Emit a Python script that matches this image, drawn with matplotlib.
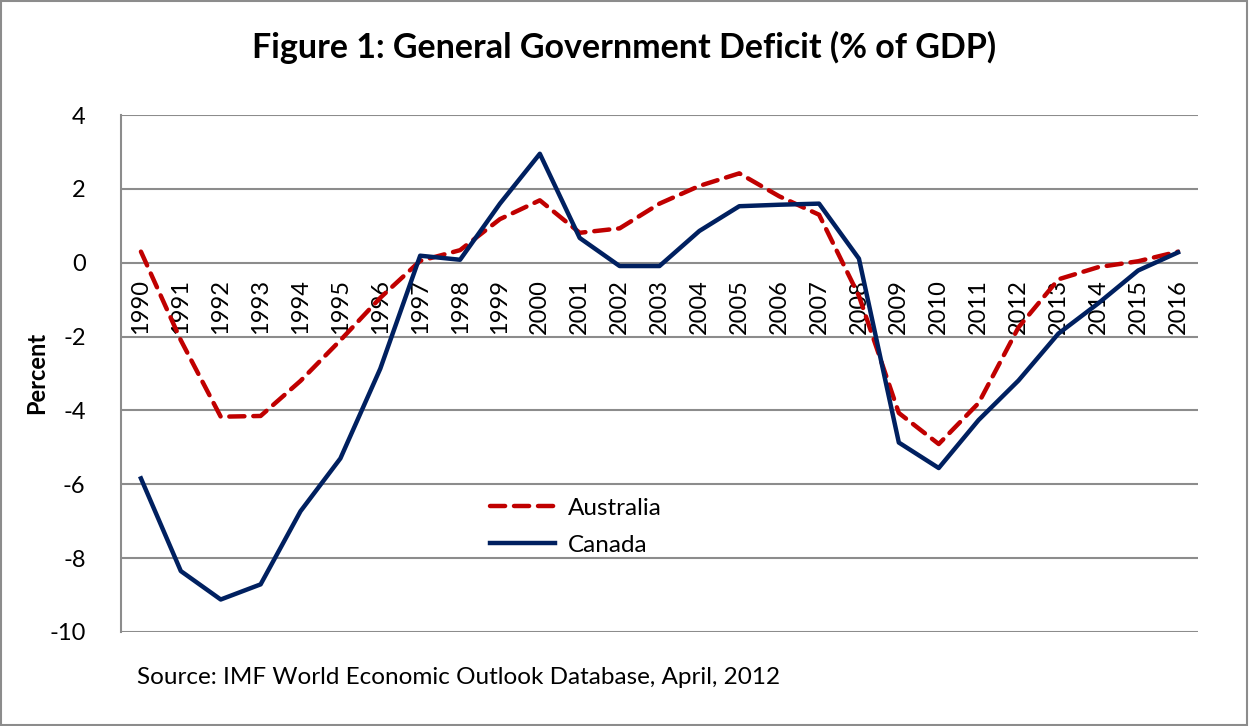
import matplotlib.pyplot as plt
from matplotlib.patches import Rectangle

years = [str(y) for y in range(1990, 2017)]
australia = [0.30, -2.1, -4.17, -4.15, -3.2, -2.1, -0.95, 0.05, 0.34, 1.18, 1.69,
             0.81, 0.93, 1.6, 2.08, 2.42, 1.8, 1.3, -0.9, -4.07, -4.91,
             -3.8, -1.75, -0.45, -0.12, 0.04, 0.3]
canada = [-5.84, -8.35, -9.12, -8.71, -6.73, -5.30, -2.87, 0.19, 0.08, 1.6, 2.95,
          0.67, -0.09, -0.09, 0.86, 1.53, 1.57, 1.6, 0.11, -4.87, -5.56,
          -4.26, -3.19, -1.92, -1.1, -0.21, 0.28]
yticks = [4, 2, 0, -2, -4, -6, -8, -10]

plt.rcParams['font.family'] = ['Lato', 'DejaVu Sans']
grid_c = '#8c8c8c'

fig = plt.figure(figsize=(12.49, 7.26), dpi=100)
ax = fig.add_axes([121/1249, 1 - 632/726, (1198 - 121)/1249, (632 - 115)/726])

x = list(range(len(years)))
ax.plot(x, australia, c='#c00000', lw=3.2, dashes=(3.4, 2.0), dash_capstyle='round',
        label='Australia', zorder=3)
ax.plot(x, canada, c='#002060', lw=3.2, label='Canada', zorder=4)

ax.set_xlim(-0.5, len(years) - 0.5)
ax.set_ylim(-10, 4)
ax.set_yticks(yticks)
ax.set_yticklabels([str(v) for v in yticks], fontsize=17)
for v in yticks:
    ax.axhline(v, color=grid_c, lw=1.5, zorder=1)

ax.set_xticks([])
for i, yr in enumerate(years):
    ax.text(i, -0.45, yr, rotation=90, ha='center', va='top', fontsize=17, zorder=2)

for key, spine in ax.spines.items():
    spine.set_visible(False)
ax.spines['left'].set_visible(True)
ax.spines['left'].set_color(grid_c)
ax.spines['left'].set_linewidth(1.5)
ax.tick_params(left=False, bottom=False, pad=22)

fig.text(37/1249, 1 - 373/726, 'Percent', rotation=90, ha='center', va='center',
         fontsize=17, fontweight='bold')

fig.text(0.5, 1 - 47/726, 'Figure 1: General Government Deficit (% of GDP)',
         ha='center', va='center', fontsize=24.5, fontweight='bold')
fig.text(137/1249, 1 - 677/726, 'Source: IMF World Economic Outlook Database, April, 2012',
         ha='left', va='center', fontsize=17.5)

ax.legend(loc='upper left', bbox_to_anchor=((480 - 121)/1077, 1 - (488 - 115)/517),
          frameon=False, fontsize=17.5, handlelength=2.7, handletextpad=0.5,
          labelspacing=0.65, borderaxespad=0)

fig.patches.append(Rectangle((0.0005, 0.001), 0.998, 0.998, transform=fig.transFigure,
                             fill=False, edgecolor=grid_c, lw=1.5))

fig.savefig('out.png', dpi=100)
